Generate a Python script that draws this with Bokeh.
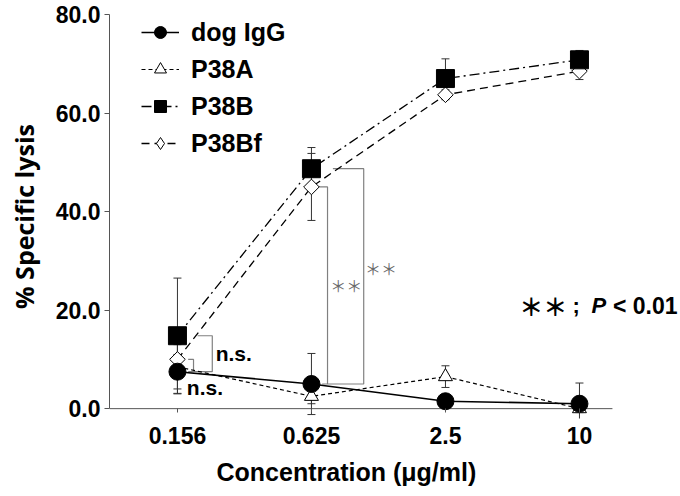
from bokeh.plotting import figure
from bokeh.models import (Range1d, FixedTicker, Legend, LegendItem, Whisker,
                          TeeHead, ColumnDataSource, Label, Title)
from bokeh.embed import file_html
from bokeh.resources import INLINE

# ---------------- data ----------------
conc_labels = ["0.156", "0.625", "2.5", "10"]
x_idx = [0, 1, 2, 3]

dog_igg = [7.5, 5.0, 1.5, 1.0]
dog_igg_err = [3.5, 6.2, 0.8, 4.2]
p38a = [8.5, 2.5, 6.5, 0.0]
p38a_err = [5.5, 1.5, 2.2, 0.8]
p38b = [14.8, 48.7, 67.0, 70.8]
p38b_err = [11.7, 4.3, 4.0, 1.9]
p38bf = [10.0, 45.0, 63.7, 68.5]
p38bf_err = [3.0, 6.8, 1.0, 1.7]

y_ticks = [0, 20, 40, 60, 80]
y_tick_labels = ["0.0", "20.0", "40.0", "60.0", "80.0"]
x_title = "Concentration (μg/ml)"
y_title = "% Specific lysis"

# ---------------- layout constants ----------------
FONT = "Liberation Sans"
AX = "#555555"
X_LEFT, X_AXIS_END, X_RIGHT = -0.507, 3.246, 3.754

p = figure(width=680, height=496, output_backend="svg", toolbar_location=None,
           x_range=Range1d(X_LEFT, X_RIGHT), y_range=Range1d(-2.0, 80),
           min_border_left=109, min_border_right=0, min_border_top=14,
           min_border_bottom=78)
p.outline_line_color = None
p.grid.visible = False
p.background_fill_color = "white"

# x axis (line drawn separately at y = 0)
p.xaxis.ticker = FixedTicker(ticks=x_idx)
p.xaxis.major_label_overrides = {i: s for i, s in zip(x_idx, conc_labels)}
p.xaxis.minor_tick_line_color = None
p.xaxis.major_tick_in = 10
p.xaxis.major_tick_out = -6
p.xaxis.axis_line_color = None
p.xaxis.major_tick_line_color = AX
p.xaxis.major_label_text_font = FONT
p.xaxis.major_label_text_font_style = "bold"
p.xaxis.major_label_text_font_size = "23px"
p.xaxis.major_label_text_color = "black"
p.xaxis.major_label_standoff = 8

# x axis title (frame extends to the right edge, so place it by offset)
p.add_layout(Title(text=x_title, align="left", offset=107,
                   text_font=FONT, text_font_style="bold",
                   text_font_size="25px", text_color="black",
                   standoff=18), "below")

p.yaxis.bounds = (0, 80)
p.yaxis.ticker = FixedTicker(ticks=y_ticks)
p.yaxis.major_label_overrides = {v: s for v, s in zip(y_ticks, y_tick_labels)}
p.yaxis.minor_tick_line_color = None
p.yaxis.major_tick_in = 0
p.yaxis.major_tick_out = 5
p.yaxis.axis_line_color = AX
p.yaxis.major_tick_line_color = AX
p.yaxis.major_label_text_font = FONT
p.yaxis.major_label_text_font_style = "bold"
p.yaxis.major_label_text_font_size = "23px"
p.yaxis.major_label_text_color = "black"
p.yaxis.major_label_standoff = 4
p.yaxis.axis_label = y_title
p.yaxis.axis_label_text_font = "Open Sans"
p.yaxis.axis_label_text_font_style = "bold"
p.yaxis.axis_label_text_font_size = "25px"
p.yaxis.axis_label_text_color = "black"
p.yaxis.axis_label_standoff = 12

# zero line acting as x axis line
p.segment(x0=[X_LEFT], y0=[0], x1=[X_AXIS_END], y1=[0], line_color=AX,
          line_width=1, level="underlay")

# ---------------- error bars ----------------
for vals, errs in [(dog_igg, dog_igg_err), (p38a, p38a_err),
                   (p38b, p38b_err), (p38bf, p38bf_err)]:
    src = ColumnDataSource(dict(x=x_idx,
                                upper=[v + e for v, e in zip(vals, errs)],
                                lower=[v - e for v, e in zip(vals, errs)]))
    w = Whisker(source=src, base="x", upper="upper", lower="lower",
                dimension="height", line_color="#333333", line_width=1,
                upper_head=TeeHead(size=8, line_color="#333333", line_width=1),
                lower_head=TeeHead(size=8, line_color="#333333", line_width=1),
                level="underlay")
    p.add_layout(w)

# ---------------- brackets ----------------
br_color = "#808080"
b_xs = [
    [x_idx[0] + 0.15, x_idx[0] + 0.26, x_idx[0] + 0.26, x_idx[0] + 0.10],
    [x_idx[0] + 0.08, x_idx[0] + 0.12, x_idx[0] + 0.12, x_idx[0] + 0.08],
    [x_idx[1] + 0.05, x_idx[1] + 0.12, x_idx[1] + 0.12, x_idx[1] + 0.08],
    [x_idx[1] + 0.16, x_idx[1] + 0.39, x_idx[1] + 0.39, x_idx[1] + 0.12],
]
b_ys = [
    [p38b[0], p38b[0], dog_igg[0], dog_igg[0]],
    [p38bf[0], p38bf[0], dog_igg[0], dog_igg[0]],
    [p38bf[1], p38bf[1], dog_igg[1], dog_igg[1]],
    [p38b[1], p38b[1], dog_igg[1], dog_igg[1]],
]
p.multi_line(b_xs, b_ys, line_color=br_color, line_width=1.2)

# ---------------- series ----------------
l_dog = p.line(x_idx, dog_igg, line_color="black", line_width=1.6)
l_a = p.line(x_idx, p38a, line_color="black", line_width=1.2, line_dash="4 3")
l_b = p.line(x_idx, p38b, line_color="black", line_width=1.3, line_dash="10 4 2 4")
l_bf = p.line(x_idx, p38bf, line_color="black", line_width=1.3, line_dash="8 5")

m_a = p.scatter(x_idx, p38a, marker="triangle", size=14, fill_color="white",
                line_color="black", line_width=1)
m_bf = p.scatter(x_idx, p38bf, marker="square", angle=0.785398, size=11,
                 fill_color="white", line_color="black", line_width=1)
m_b = p.scatter(x_idx, p38b, marker="square", size=18, fill_color="black",
                line_color="black")
m_dog = p.scatter(x_idx, dog_igg, marker="circle", size=17, fill_color="black",
                  line_color="black")
# legend-only key for the rotated-square markers (not drawn in the plot)
m_bf_key = p.scatter([float("nan")], [float("nan")], marker="diamond", size=14,
                     fill_color="white", line_color="black", line_width=1)

legend = Legend(items=[
    LegendItem(label="dog IgG", renderers=[l_dog, m_dog]),
    LegendItem(label="P38A", renderers=[l_a, m_a]),
    LegendItem(label="P38B", renderers=[l_b, m_b]),
    LegendItem(label="P38Bf", renderers=[l_bf, m_bf_key]),
], location=(32, 260), padding=0, margin=0, spacing=7,
    glyph_width=38, glyph_height=30, label_height=30, label_standoff=12,
    label_text_font=FONT, label_text_font_style="bold",
    label_text_font_size="25px", label_text_color="black",
    border_line_color=None, background_fill_alpha=0)
p.add_layout(legend)

# ---------------- annotations ----------------
def lab(x, y, text, size, color="black", font=FONT, style="bold"):
    p.add_layout(Label(x=x, y=y, text=text, text_font=font,
                       text_font_style=style, text_font_size=size,
                       text_color=color, text_baseline="middle",
                       text_align="left"))

lab(x_idx[0] + 0.285, (p38b[0] + dog_igg[0]) / 2, "n.s.", "21px")
lab(x_idx[0] + 0.07, dog_igg[0] - 3.2, "n.s.", "21px")
lab(x_idx[1] + 0.14, (p38bf[1] + dog_igg[1]) / 2, "＊＊", "16px",
    color="#6a6a6a", font="Noto Sans CJK JP", style="normal")
lab(x_idx[1] + 0.40, (p38b[1] + dog_igg[1]) / 2 + 1.7, "＊＊", "16px",
    color="#6a6a6a", font="Noto Sans CJK JP", style="normal")

lab(2.55, 20.9, "＊＊", "24px", font="Noto Sans CJK JP", style="bold")
lab(2.948, 20.9, ";", "22px")
lab(3.09, 20.9, "P", "22px", style="bold italic")
lab(3.25, 20.9, "< 0.01", "23px")

open("out.html", "w").write(file_html(p, INLINE))
